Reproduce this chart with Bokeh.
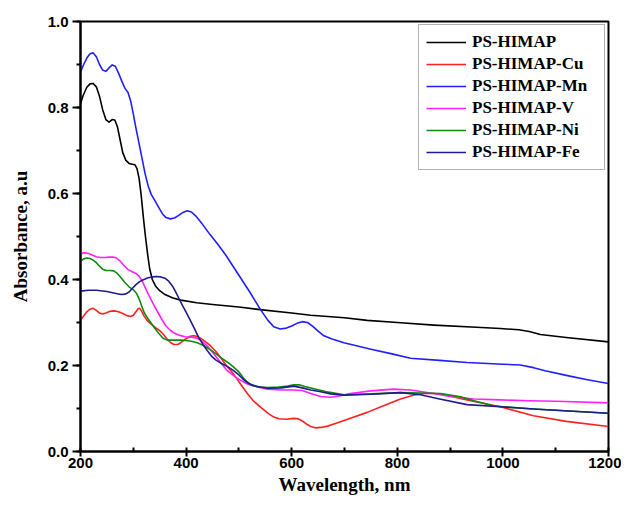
from bokeh.plotting import figure
from bokeh.models import Legend, LegendItem, Range1d, FixedTicker, CustomJSTickFormatter
from bokeh.embed import file_html
from bokeh.resources import INLINE

# ---- data ----
x_himap = [200, 205, 212, 218, 224, 230, 236, 242, 248, 254, 260, 265, 270, 275, 280, 286, 292, 298,
           303, 307, 311, 315, 319, 323, 327, 331, 336, 342, 350, 360, 375, 390, 420, 450, 500, 540,
           600, 636, 700, 743, 800, 869, 950, 995, 1030, 1050, 1071, 1120, 1200]
y_himap = [0.809, 0.828, 0.847, 0.855, 0.856, 0.848, 0.826, 0.795, 0.772, 0.766, 0.772, 0.771, 0.755,
           0.725, 0.695, 0.677, 0.670, 0.668, 0.667, 0.658, 0.635, 0.595, 0.545, 0.500, 0.460, 0.425,
           0.400, 0.385, 0.374, 0.365, 0.357, 0.352, 0.346, 0.342, 0.336, 0.330, 0.322, 0.317, 0.311,
           0.305, 0.300, 0.294, 0.289, 0.286, 0.283, 0.279, 0.272, 0.265, 0.255]

x_mn = [200, 206, 212, 218, 224, 230, 236, 242, 248, 254, 260, 266, 272, 278, 284, 290, 295, 300, 305,
        310, 316, 322, 328, 334, 340, 347, 355, 362, 370, 378, 386, 394, 402, 410, 418, 430, 445, 460,
        475, 500, 520, 541, 555, 566, 578, 590, 600, 610, 620, 630, 640, 650, 660, 675, 699, 750, 790,
        825, 880, 932, 1000, 1033, 1058, 1080, 1120, 1160, 1200]
y_mn = [0.882, 0.900, 0.915, 0.925, 0.927, 0.918, 0.900, 0.887, 0.884, 0.892, 0.899, 0.896, 0.880,
        0.862, 0.845, 0.835, 0.815, 0.785, 0.752, 0.722, 0.685, 0.648, 0.618, 0.598, 0.585, 0.570,
        0.553, 0.544, 0.541, 0.543, 0.549, 0.556, 0.560, 0.557, 0.548, 0.530, 0.505, 0.482, 0.457,
        0.410, 0.372, 0.330, 0.305, 0.290, 0.285, 0.287, 0.292, 0.298, 0.302, 0.300, 0.291, 0.280,
        0.270, 0.262, 0.253, 0.238, 0.227, 0.217, 0.212, 0.207, 0.203, 0.201, 0.195, 0.188, 0.177,
        0.167, 0.158]

x_v = [200, 206, 214, 222, 230, 238, 246, 254, 262, 268, 274, 282, 290, 298, 305, 311, 317, 323, 330,
       338, 346, 354, 362, 370, 378, 388, 398, 410, 420, 430, 440, 450, 462, 478, 497, 516, 535, 554,
       580, 604, 620, 636, 655, 674, 690, 711, 750, 793, 825, 869, 900, 945, 995, 1050, 1100, 1200]
y_v = [0.459, 0.462, 0.461, 0.457, 0.453, 0.451, 0.451, 0.452, 0.452, 0.450, 0.444, 0.433, 0.423,
       0.418, 0.414, 0.408, 0.396, 0.380, 0.362, 0.343, 0.325, 0.307, 0.292, 0.282, 0.275, 0.270,
       0.267, 0.266, 0.264, 0.257, 0.245, 0.231, 0.212, 0.188, 0.170, 0.157, 0.150, 0.145, 0.143,
       0.143, 0.142, 0.135, 0.128, 0.126, 0.129, 0.135, 0.141, 0.145, 0.143, 0.135, 0.128, 0.122,
       0.120, 0.118, 0.117, 0.113]

x_ni = [200, 206, 212, 218, 224, 230, 236, 242, 248, 256, 263, 269, 276, 284, 292, 300, 306, 311, 316,
        321, 327, 333, 340, 348, 356, 364, 375, 390, 400, 412, 421, 432, 446, 458, 470, 480, 490, 500,
        508, 516, 527, 540, 555, 575, 592, 604, 614, 625, 642, 670, 699, 750, 806, 882, 920, 945, 983,
        1000, 1058, 1100, 1200]
y_ni = [0.442, 0.448, 0.450, 0.449, 0.445, 0.439, 0.431, 0.424, 0.421, 0.421, 0.420, 0.415, 0.405,
        0.393, 0.383, 0.376, 0.368, 0.355, 0.338, 0.322, 0.310, 0.300, 0.288, 0.275, 0.264, 0.259,
        0.259, 0.259, 0.258, 0.256, 0.253, 0.247, 0.237, 0.226, 0.215, 0.206, 0.196, 0.185, 0.172,
        0.161, 0.153, 0.150, 0.149, 0.150, 0.152, 0.155, 0.155, 0.151, 0.146, 0.138, 0.132, 0.134,
        0.137, 0.135, 0.127, 0.118, 0.106, 0.104, 0.099, 0.096, 0.089]

x_fe = [200, 215, 230, 250, 265, 277, 285, 292, 298, 305, 312, 320, 328, 336, 344, 352, 360, 367, 374,
        380, 386, 393, 400, 408, 416, 424, 432, 440, 448, 456, 465, 478, 490, 500, 510, 520, 535, 554,
        580, 604, 620, 636, 655, 674, 699, 750, 806, 844, 880, 932, 995, 1058, 1100, 1200]
y_fe = [0.373, 0.375, 0.375, 0.372, 0.368, 0.365, 0.366, 0.371, 0.379, 0.388, 0.395, 0.400, 0.404,
        0.406, 0.407, 0.406, 0.403, 0.396, 0.385, 0.372, 0.357, 0.340, 0.324, 0.305, 0.285, 0.265,
        0.249, 0.235, 0.222, 0.213, 0.206, 0.198, 0.188, 0.178, 0.166, 0.157, 0.151, 0.147, 0.148,
        0.152, 0.148, 0.143, 0.139, 0.134, 0.131, 0.133, 0.137, 0.132, 0.122, 0.109, 0.104, 0.099,
        0.096, 0.089]

x_cu = [200, 206, 212, 218, 224, 230, 236, 242, 248, 256, 264, 272, 280, 288, 295, 300, 305, 309, 312,
        316, 320, 326, 334, 342, 350, 358, 365, 371, 377, 384, 390, 396, 402, 408, 414, 420, 428, 436,
        446, 456, 465, 476, 490, 503, 516, 528, 541, 556, 566, 576, 590, 604, 612, 620, 628, 636, 645,
        655, 668, 680, 710, 743, 775, 806, 830, 850, 870, 888, 932, 995, 1058, 1120, 1200]
y_cu = [0.305, 0.315, 0.325, 0.331, 0.333, 0.328, 0.322, 0.320, 0.322, 0.326, 0.327, 0.325, 0.321,
        0.316, 0.314, 0.317, 0.325, 0.332, 0.333, 0.326, 0.316, 0.305, 0.296, 0.288, 0.281, 0.271,
        0.260, 0.253, 0.249, 0.249, 0.253, 0.259, 0.264, 0.268, 0.269, 0.268, 0.263, 0.256, 0.246,
        0.233, 0.219, 0.200, 0.180, 0.157, 0.135, 0.117, 0.103, 0.088, 0.080, 0.076, 0.075, 0.077,
        0.076, 0.071, 0.064, 0.058, 0.055, 0.056, 0.059, 0.064, 0.077, 0.091, 0.107, 0.122, 0.131,
        0.135, 0.135, 0.132, 0.120, 0.104, 0.083, 0.070, 0.058]

series_names = ["PS-HIMAP", "PS-HIMAP-Cu", "PS-HIMAP-Mn", "PS-HIMAP-V", "PS-HIMAP-Ni", "PS-HIMAP-Fe"]
series_colors = ["#000000", "#ff2020", "#2020ff", "#ff20ff", "#118811", "#1c1c8c"]
x_ticks = [200, 400, 600, 800, 1000, 1200]
x_minor = [200, 300, 400, 500, 600, 700, 800, 900, 1000, 1100, 1200]
y_ticks = [0.0, 0.2, 0.4, 0.6, 0.8, 1.0]
y_minor = [0.0, 0.1, 0.2, 0.3, 0.4, 0.5, 0.6, 0.7, 0.8, 0.9, 1.0]

series_x = [x_himap, x_cu, x_mn, x_v, x_ni, x_fe]
series_y = [y_himap, y_cu, y_mn, y_v, y_ni, y_fe]

p = figure(width=621, height=505, output_backend="svg", toolbar_location=None,
           x_range=Range1d(200, 1200), y_range=Range1d(0, 1.0),
           min_border_left=80, min_border_right=13, min_border_top=21, min_border_bottom=54)
p.xgrid.visible = False
p.ygrid.visible = False
p.outline_line_color = "black"
p.outline_line_width = 2
p.background_fill_color = "white"
p.border_fill_color = "white"

items = []
for xs, ys, col, name in zip(series_x, series_y, series_colors, series_names):
    r = p.line(xs, ys, line_color=col, line_width=1.6, line_join="round")
    items.append(LegendItem(label=name, renderers=[r]))

p.xaxis.ticker = FixedTicker(ticks=x_ticks, minor_ticks=x_minor)
p.yaxis.ticker = FixedTicker(ticks=y_ticks, minor_ticks=y_minor)
p.yaxis.formatter = CustomJSTickFormatter(code="return tick.toFixed(1);")

for ax in (p.xaxis, p.yaxis):
    ax.axis_line_width = 2
    ax.axis_line_color = "black"
    ax.major_tick_line_width = 2
    ax.minor_tick_line_width = 2
    ax.major_tick_line_color = "black"
    ax.minor_tick_line_color = "black"
    ax.major_label_text_font = "Liberation Sans"
    ax.major_label_text_font_style = "bold"
    ax.major_label_text_font_size = "15px"
    ax.major_label_text_color = "black"
    ax.axis_label_text_font = "Liberation Serif"
    ax.axis_label_text_font_style = "bold"
    ax.axis_label_text_font_size = "19px"
    ax.axis_label_text_color = "black"

p.xaxis.major_tick_out = 5
p.xaxis.major_tick_in = 0
p.xaxis.minor_tick_out = 0
p.xaxis.minor_tick_in = 4
p.yaxis.major_tick_out = 8
p.yaxis.major_tick_in = 0
p.yaxis.minor_tick_out = 4
p.yaxis.minor_tick_in = 0
p.xaxis.major_label_standoff = 1
p.yaxis.major_label_standoff = 4
p.xaxis.axis_label = "Wavelength, nm"
p.yaxis.axis_label = "Absorbance, a.u"
p.xaxis.axis_label_standoff = 3
p.yaxis.axis_label_standoff = 14

legend = Legend(items=items, location="top_right")
legend.margin = 3
legend.padding = 7
legend.spacing = 2
legend.glyph_width = 40
legend.glyph_height = 20
legend.label_height = 20
legend.label_width = 125
legend.label_standoff = 6
legend.label_text_font = "Liberation Serif"
legend.label_text_font_style = "bold"
legend.label_text_font_size = "17px"
legend.label_text_color = "black"
legend.border_line_color = "#666666"
legend.border_line_width = 1
legend.background_fill_alpha = 1.0
p.add_layout(legend)

open("out.html", "w").write(file_html(p, INLINE))
